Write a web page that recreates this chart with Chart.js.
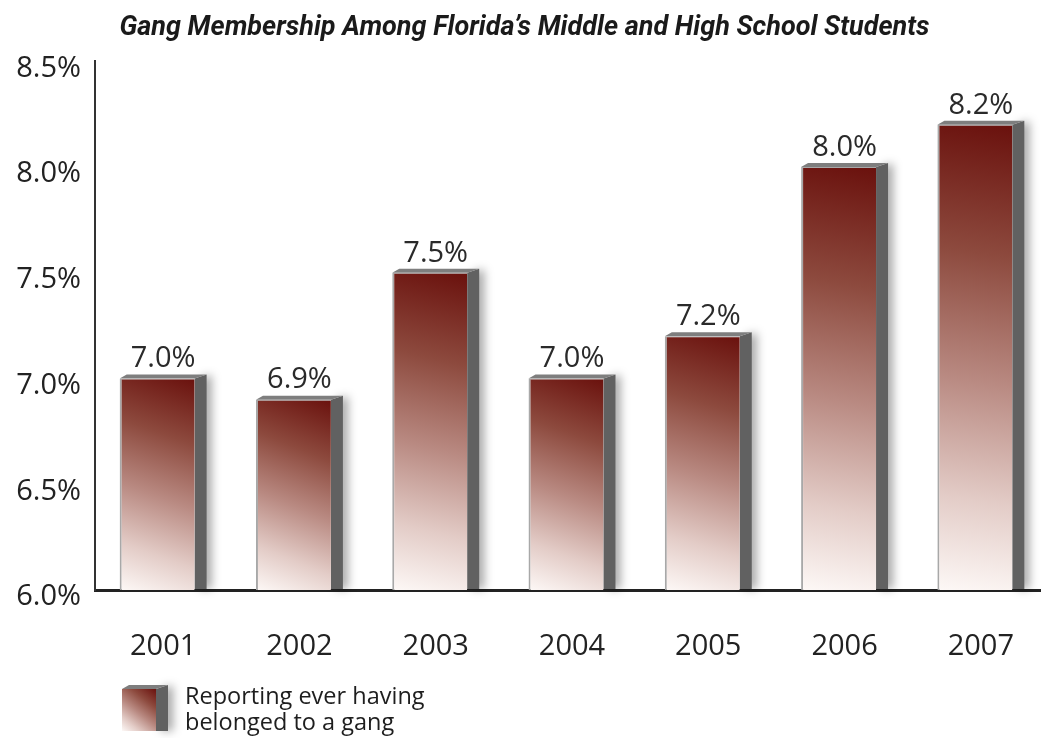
<!DOCTYPE html>
<html>
<head>
<meta charset="utf-8">
<script src="https://cdn.jsdelivr.net/npm/chart.js@4"></script>
<style>
  html, body { margin: 0; background: #fff; overflow: hidden; }
  #wrap { width: 1041px; height: 738px; overflow: hidden; }
</style>
</head>
<body>
<!-- the plot runs a few px past the right edge, like the original -->
<div id="wrap"><canvas id="chart" width="1049" height="738"></canvas></div>
<script>
// chart values
const chartTitle = "Gang Membership Among Florida\u2019s Middle and High School Students"
const years = ["2001", "2002", "2003", "2004", "2005", "2006", "2007"]
const gangShare = [7.0, 6.9, 7.5, 7.0, 7.2, 8.0, 8.2]
const yTicks = [6.0, 6.5, 7.0, 7.5, 8.0, 8.5]
const legendLines = ["Reporting ever having", "belonged to a gang"]

const SHIFT = -6 // front face sits a bit left of the category centre
const DEPTH_R = 12, DEPTH_L = 7, RISE = 4
const FONT = "'Open Sans', 'DejaVu Sans', sans-serif"

// diagonal red-to-white fill for a front face
function faceGradient(ctx, l, r, top, bottom) {
  const g = ctx.createLinearGradient(r, top, l, bottom)
  g.addColorStop(0, "#6a110d")
  g.addColorStop(0.28, "#8d4a3e")
  g.addColorStop(0.55, "#b98a82")
  g.addColorStop(0.8, "#e3ccc7")
  g.addColorStop(1, "#fdf8f6")
  return g
}

// grey side + top faces with a soft shadow
function drawBlock(ctx, l, r, top, bottom) {
  ctx.save()
  ctx.shadowColor = "rgba(0,0,0,0.35)"
  ctx.shadowBlur = 10
  ctx.shadowOffsetX = 5
  ctx.fillStyle = "#616161"
  ctx.beginPath()
  ctx.moveTo(r, top)
  ctx.lineTo(r + DEPTH_R, top - RISE)
  ctx.lineTo(r + DEPTH_R, bottom)
  ctx.lineTo(r, bottom)
  ctx.closePath()
  ctx.fill()
  ctx.restore()
  ctx.fillStyle = "#7e7e7e"
  ctx.beginPath()
  ctx.moveTo(l, top)
  ctx.lineTo(l + DEPTH_L, top - RISE)
  ctx.lineTo(r + DEPTH_R, top - RISE)
  ctx.lineTo(r, top)
  ctx.closePath()
  ctx.fill()
}

const bar3d = {
  id: "bar3d",
  beforeDatasetsDraw(chart) {
    const ctx = chart.ctx
    const floor = chart.scales.y.getPixelForValue(chart.scales.y.min) - 1
    ctx.save()
    ctx.translate(SHIFT, 0)
    chart.getDatasetMeta(0).data.forEach(bar => {
      const { x, y, width } = bar.getProps(["x", "y", "width"], true)
      drawBlock(ctx, x - width / 2, x + width / 2, y, floor)
    })
  },
  afterDatasetsDraw(chart) {
    const ctx = chart.ctx
    ctx.fillStyle = "#2a2a2a"
    ctx.font = "29px " + FONT
    ctx.textAlign = "center"
    ctx.textBaseline = "bottom"
    chart.getDatasetMeta(0).data.forEach((bar, i) => {
      ctx.fillText(gangShare[i].toFixed(1) + "%", bar.x + 6, bar.y - 5)
    })
    ctx.restore()
  },
  afterDraw(chart) {
    // legend icon + two-line label
    const ctx = chart.ctx
    const l = 122, r = 156, top = 689, bottom = 731
    ctx.save()
    drawBlock(ctx, l, r, top, bottom)
    ctx.fillStyle = faceGradient(ctx, l, r, top, bottom)
    ctx.fillRect(l, top, r - l, bottom - top)
    ctx.fillStyle = "#1e1e1e"
    ctx.font = "23.5px " + FONT
    ctx.textAlign = "left"
    ctx.textBaseline = "middle"
    legendLines.forEach((line, i) => ctx.fillText(line, 185, 697 + i * 26))
    ctx.restore()
  }
}

const chart = new Chart(document.getElementById("chart"), {
  type: "bar",
  data: {
    labels: years,
    datasets: [{
      label: legendLines.join(" "),
      data: gangShare,
      barPercentage: 0.55,
      categoryPercentage: 1,
      borderColor: "#a8a8a8",
      borderWidth: { left: 2, top: 1, right: 0, bottom: 0 },
      borderSkipped: false,
      backgroundColor: c => {
        const ch = c.chart
        if (!ch.chartArea || c.type !== "data") return "#a06a60"
        const half = ch.scales.x.width / years.length * 0.55 / 2
        const x = ch.scales.x.getPixelForValue(c.dataIndex)
        const top = ch.scales.y.getPixelForValue(c.raw)
        const bottom = ch.scales.y.getPixelForValue(ch.scales.y.min)
        return faceGradient(ch.ctx, x - half, x + half, top, bottom)
      }
    }]
  },
  options: {
    responsive: false,
    animation: false,
    layout: { padding: 0 },
    scales: {
      x: {
        grid: { display: false, drawTicks: false },
        border: { color: "#222", width: 3 },
        ticks: { color: "#222", font: { family: FONT, size: 29 }, padding: 39 },
        afterFit: s => {
          s.height = 148
          s.paddingLeft = 0
          s.paddingRight = 0
        }
      },
      y: {
        min: 6,
        max: 8.5,
        grid: { display: false, drawTicks: false },
        border: { color: "#333", width: 2 },
        afterBuildTicks: axis => { axis.ticks = yTicks.map(v => ({ value: v })) },
        ticks: {
          color: "#222",
          font: { family: FONT, size: 29 },
          padding: 14,
          labelOffset: 7,
          callback: v => Number(v).toFixed(1) + "%"
        },
        afterFit: s => { s.width = 95 }
      }
    },
    plugins: {
      legend: { display: false },
      tooltip: { enabled: false },
      title: {
        display: true,
        text: chartTitle,
        color: "#1a1a1a",
        font: { family: "Roboto, 'DejaVu Sans', sans-serif", size: 27, weight: "bold", style: "italic" },
        padding: { top: 12, bottom: 17 }
      }
    }
  },
  plugins: [bar3d]
})
</script>
</body>
</html>
